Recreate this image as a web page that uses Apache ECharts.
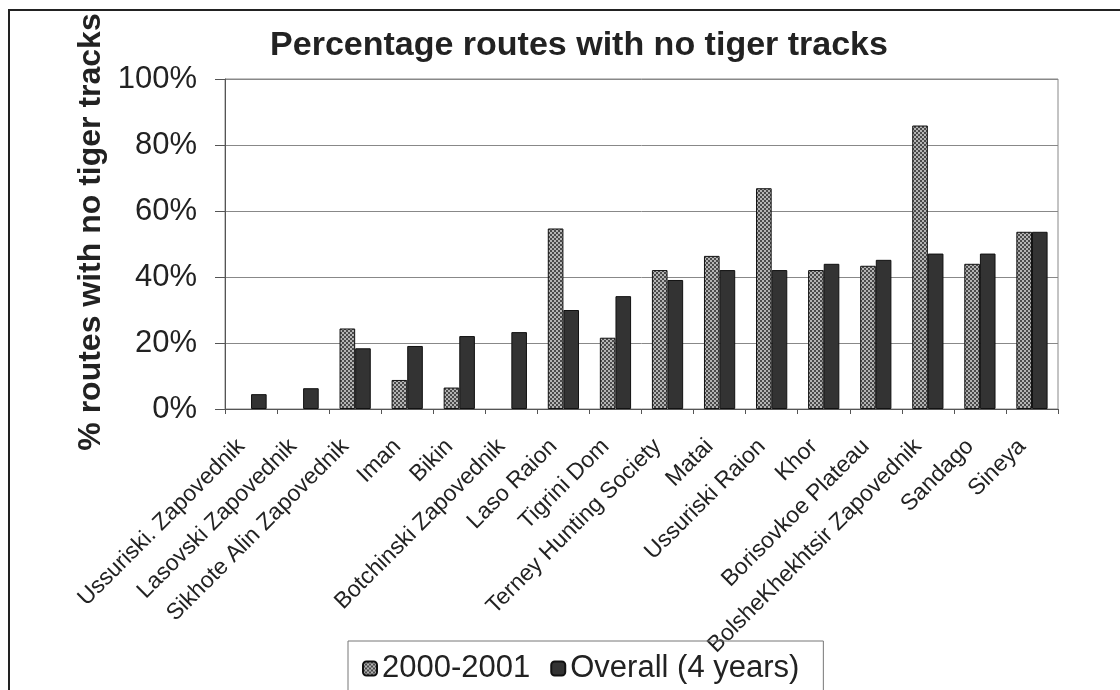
<!DOCTYPE html>
<html>
<head>
<meta charset="utf-8">
<script src="https://cdn.jsdelivr.net/npm/echarts@6/dist/echarts.min.js"></script>
<style>
  html, body { margin: 0; padding: 0; background: #ffffff; }
  #chart { width: 1120px; height: 690px; }
</style>
</head>
<body>
<div id="chart"></div>
<script>
// Survey areas (x categories)
const categories = [
  'Ussuriski. Zapovednik', 'Lasovski Zapovednik', 'Sikhote Alin Zapovednik', 'Iman',
  'Bikin', 'Botchinski Zapovednik', 'Laso Raion', 'Tigrini Dom',
  'Terney Hunting Society', 'Matai', 'Ussuriski Raion', 'Khor',
  'Borisovkoe Plateau', 'BolsheKhekhtsir Zapovednik', 'Sandago', 'Sineya'
];
// % of routes with no tiger tracks, winter 2000-2001
const season2000 = [0, 0, 24.4, 8.8, 6.5, 0, 54.7, 21.6, 42.1, 46.4, 66.9, 42.1, 43.4, 85.9, 44.0, 53.7];
// % of routes with no tiger tracks, all four years
const overall4yr = [4.5, 6.3, 18.4, 19.1, 22.1, 23.3, 30.0, 34.2, 39.1, 42.1, 42.1, 44.0, 45.2, 47.1, 47.1, 53.7];
const yTicks = [0, 20, 40, 60, 80, 100];

// a zero share draws no bar at all (no outline on the baseline)
const noZero = arr => arr.map(v => (v === 0 ? null : v));

// small checkered fill for the 2000-2001 bars
function checkerPattern() {
  const c = document.createElement('canvas');
  c.width = 4; c.height = 4;
  const g = c.getContext('2d');
  g.fillStyle = '#b4b4b4';
  g.fillRect(0, 0, 4, 4);
  g.fillStyle = '#4a4a4a';
  g.fillRect(0, 0, 2, 2);
  g.fillRect(2, 2, 2, 2);
  return c;
}

const FONT = '"Liberation Sans", Arial, sans-serif';
const chart = echarts.init(document.getElementById('chart'), null, { renderer: 'canvas' });

chart.setOption({
  backgroundColor: '#ffffff',
  animation: false,
  title: {
    text: 'Percentage routes with no tiger tracks',
    left: 574, top: 24, textAlign: 'center',
    textStyle: { fontFamily: FONT, fontSize: 34, fontWeight: 'bold', color: '#222' }
  },
  graphic: [{
    type: 'rect', silent: true,
    shape: { x: 9, y: 10, width: 1300, height: 900 },
    style: { fill: 'none', stroke: '#222', lineWidth: 2 }
  }],
  legend: {
    left: 348, top: 641,
    padding: [12, 24, 30, 14],
    borderColor: '#777', borderWidth: 1,
    itemWidth: 14, itemHeight: 14, itemGap: 20,
    textStyle: { fontFamily: FONT, fontSize: 31, color: '#222' },
    data: ['2000-2001', 'Overall (4 years)']
  },
  grid: {
    left: 225, top: 79, right: 62, bottom: 281,
    show: true, borderColor: '#888', borderWidth: 1
  },
  xAxis: {
    type: 'category',
    data: categories,
    axisLine: { lineStyle: { color: '#555', width: 1 } },
    axisTick: { show: true, length: 5, interval: 0, lineStyle: { color: '#555' } },
    axisLabel: {
      interval: 0, rotate: 45, margin: 24, padding: [0, 14, 0, 0],
      fontFamily: FONT, fontSize: 23, color: '#222'
    }
  },
  yAxis: {
    type: 'value',
    min: yTicks[0], max: yTicks[yTicks.length - 1], interval: 20,
    name: '% routes with no tiger tracks',
    nameLocation: 'middle', nameRotate: 90, nameGap: 110,
    nameTextStyle: {
      fontFamily: FONT, fontSize: 32, fontWeight: 'bold', color: '#222',
      padding: [0, 0, 0, 24]
    },
    axisLine: { show: true, lineStyle: { color: '#555', width: 1 } },
    axisTick: { show: true, length: 10, inside: false, lineStyle: { color: '#555' } },
    axisLabel: {
      margin: 28, formatter: '{value}%',
      fontFamily: FONT, fontSize: 31, color: '#222'
    },
    splitLine: { show: true, lineStyle: { color: '#888', width: 1 } }
  },
  series: [
    {
      name: '2000-2001', type: 'bar',
      data: noZero(season2000),
      barGap: '0%', barCategoryGap: '40%',
      itemStyle: {
        color: { image: checkerPattern(), repeat: 'repeat' },
        borderColor: '#111', borderWidth: 1
      }
    },
    {
      name: 'Overall (4 years)', type: 'bar',
      data: noZero(overall4yr),
      itemStyle: { color: '#333333', borderColor: '#111', borderWidth: 1 }
    }
  ]
});
</script>
</body>
</html>
